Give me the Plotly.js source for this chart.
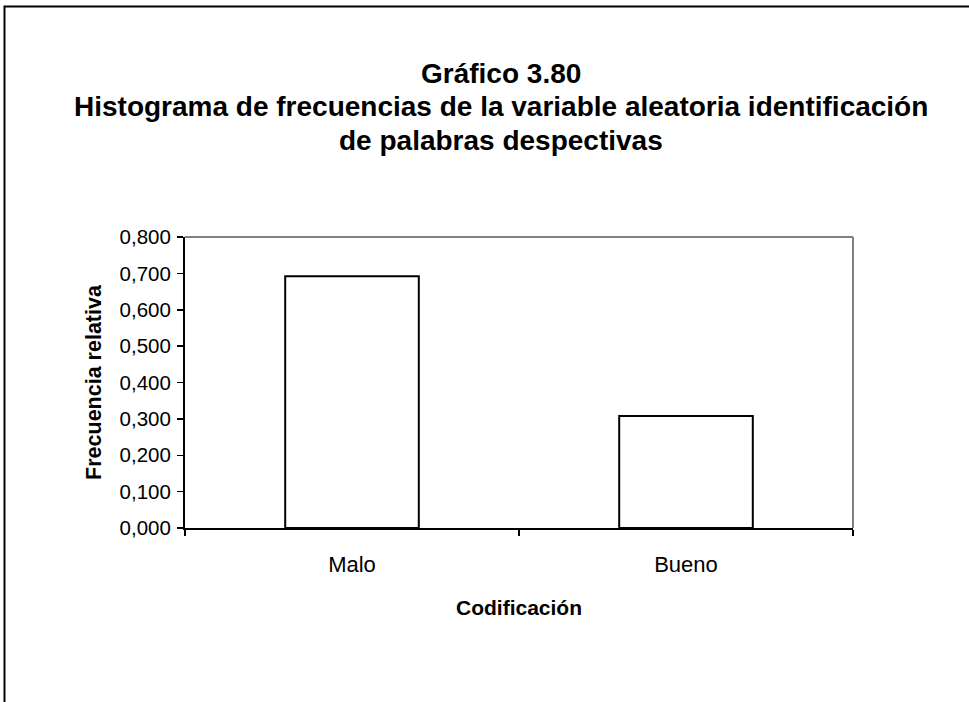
<!DOCTYPE html>
<html>
<head>
<meta charset="utf-8">
<script src="https://cdn.plot.ly/plotly-3.0.1.min.js"></script>
<style>
html,body{margin:0;padding:0;background:#fff;}
#chart{width:969px;height:702px;}
</style>
</head>
<body>
<div id="chart"></div>
<script>
const categories = ["Malo", "Bueno"];
const frecuenciaRelativa = [0.692, 0.308];
const yTickValues = [0, 0.1, 0.2, 0.3, 0.4, 0.5, 0.6, 0.7, 0.8];
const yTickLabels = ["0,000", "0,100", "0,200", "0,300", "0,400", "0,500", "0,600", "0,700", "0,800"];
const titleLines = ["Gráfico 3.80", "Histograma de frecuencias de la variable aleatoria identificación", "de palabras despectivas"];
const xTitle = "Codificación";
const yTitle = "Frecuencia relativa";

const W = 969, H = 702;
const m = {l: 185, r: 116, t: 237, b: 174};
const pw = W - m.l - m.r, ph = H - m.t - m.b;
const px = v => (v - m.l) / pw;
const py = v => (H - m.b - v) / ph;

const FONT = "Liberation Sans, Arial, sans-serif";
const titleCenters = [73, 106.5, 140];

const trace = {
  type: "bar",
  x: categories,
  y: frecuenciaRelativa,
  marker: {color: "#ffffff", line: {color: "#000000", width: 2}},
  hoverinfo: "x+y"
};

const layout = {
  width: W, height: H,
  margin: m,
  paper_bgcolor: "#ffffff",
  plot_bgcolor: "#ffffff",
  showlegend: false,
  bargap: 0.6,
  font: {family: FONT, color: "#000000", size: 20},
  annotations: titleLines.map((t, i) => ({
    text: "<b>" + t + "</b>",
    xref: "paper", yref: "paper",
    x: px(501), y: py(titleCenters[i]),
    xanchor: "center", yanchor: "middle",
    showarrow: false,
    font: {family: FONT, size: 28, color: "#000000"}
  })),
  xaxis: {
    type: "category",
    tickson: "boundaries",
    ticks: "outside", ticklen: 6, tickwidth: 1.5, tickcolor: "#000",
    ticklabelstandoff: 16,
    showline: true, linecolor: "#000", linewidth: 2,
    showgrid: false, zeroline: false,
    tickfont: {family: FONT, size: 22, color: "#000"},
    title: {text: "<b>" + xTitle + "</b>", font: {family: FONT, size: 21, color: "#000"}, standoff: 24}
  },
  yaxis: {
    range: [0, 0.8],
    tickvals: yTickValues, ticktext: yTickLabels,
    ticks: "outside", ticklen: 6, tickwidth: 1.5, tickcolor: "#000",
    ticklabelstandoff: 2,
    showline: true, linecolor: "#000", linewidth: 2,
    showgrid: false, zeroline: false,
    tickfont: {family: FONT, size: 20.5, color: "#000"},
    title: {text: "<b>" + yTitle + "</b>", font: {family: FONT, size: 21.5, color: "#000"}, standoff: 12}
  },
  shapes: [
    {type: "line", xref: "paper", yref: "paper", x0: 0, x1: 1, y0: 1, y1: 1, line: {color: "#808080", width: 2}},
    {type: "line", xref: "paper", yref: "paper", x0: 1, x1: 1, y0: 0, y1: 1, line: {color: "#808080", width: 2}},
    {type: "path", xref: "paper", yref: "paper",
     path: "M " + px(4.5) + "," + py(H + 5) + " L " + px(4.5) + "," + py(6.5) + " L " + px(W + 5) + "," + py(6.5),
     line: {color: "#000000", width: 2}}
  ]
};

Plotly.newPlot("chart", [trace], layout, {displayModeBar: false, staticPlot: true});
</script>
</body>
</html>
